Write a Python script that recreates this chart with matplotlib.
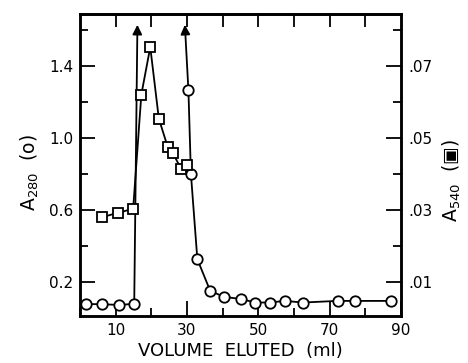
import numpy as np
import matplotlib
matplotlib.use('Agg')
import matplotlib.pyplot as plt
from matplotlib.ticker import MultipleLocator, FuncFormatter

# A280 (circles), split around the off-scale peaks
circ_pre_x = [1.8, 6.3, 10.8, 15.2]
circ_pre_y = [0.077, 0.075, 0.072, 0.077]
circ_post_x = [30.4, 31.1, 32.9, 36.5, 40.3, 45.2, 49.2, 53.2, 57.4, 62.5, 72.2, 77.2, 87.2]
circ_post_y = [1.265, 0.80, 0.326, 0.150, 0.117, 0.104, 0.085, 0.085, 0.094, 0.085, 0.094, 0.094, 0.094]
# off-scale peak arrows (x, tip height in A280 units)
arrow_x = [16.1, 29.4]
arrow_top = [1.63, 1.63]

# A540 (squares)
sq_x = [6.25, 10.6, 14.9, 17.2, 19.7, 22.1, 24.6, 26.1, 28.3, 29.9]
sq_y = [0.0280, 0.0292, 0.0303, 0.0621, 0.0753, 0.0554, 0.0475, 0.0457, 0.0415, 0.0424]

W, H = 468, 363
fig = plt.figure(figsize=(W / 100, H / 100), dpi=100)
ax = fig.add_axes([80 / W, 47 / H, 321 / W, 302 / H])
ax2 = ax.twinx()

lw = 1.3
ax.plot(circ_pre_x, circ_pre_y, '-', color='k', lw=lw, marker='o', ms=7.5,
        mfc='white', mec='k', mew=1.3, zorder=4)
ax.plot(circ_post_x, circ_post_y, '-', color='k', lw=lw, marker='o', ms=7.5,
        mfc='white', mec='k', mew=1.3, zorder=4)
# arrows for off-scale values
ax.annotate('', xy=(arrow_x[0], arrow_top[0]), xytext=(circ_pre_x[-1], circ_pre_y[-1]),
            arrowprops=dict(arrowstyle='-|>', color='k', lw=lw, mutation_scale=14,
                            shrinkA=0, shrinkB=0), zorder=3)
ax.annotate('', xy=(arrow_x[1], arrow_top[1]), xytext=(circ_post_x[0], circ_post_y[0]),
            arrowprops=dict(arrowstyle='-|>', color='k', lw=lw, mutation_scale=14,
                            shrinkA=0, shrinkB=0), zorder=3)

ax2.plot(sq_x, sq_y, '-', color='k', lw=lw, marker='s', ms=6.5,
         mfc='white', mec='k', mew=1.3, zorder=4)

ax.set_xlim(0, 90)
ax.set_ylim(0.01, 1.69)
ax2.set_ylim(0.0005, 0.0845)

ax.set_xticks([10, 30, 50, 70, 90])
ax.xaxis.set_minor_locator(MultipleLocator(10))
ax.set_yticks([0.2, 0.6, 1.0, 1.4])
ax.yaxis.set_minor_locator(MultipleLocator(0.2))
ax.set_yticklabels(['0.2', '0.6', '1.0', '1.4'])
ax2.set_yticks([0.01, 0.03, 0.05, 0.07])
ax2.yaxis.set_minor_locator(MultipleLocator(0.01))
ax2.yaxis.set_major_formatter(FuncFormatter(lambda v, p: ('%.2f' % v).lstrip('0')))

for a in (ax, ax2):
    a.tick_params(which='both', direction='in', width=1.3, labelsize=11, pad=5)
    a.tick_params(which='major', length=11)
    a.tick_params(which='minor', length=6)
ax.tick_params(axis='y', which='both', right=False)

top = ax.secondary_xaxis('top')
top.set_xticks([10, 20, 30, 40, 50, 60, 70, 80])
top.tick_params(direction='in', length=9, width=1.3, labeltop=False)

for a in (ax, ax2, top):
    for s in a.spines.values():
        s.set_linewidth(1.8)

ax.set_xlabel('VOLUME  ELUTED  (ml)', fontsize=13, labelpad=3)
ax.set_ylabel('A$_{280}$  (o)', fontsize=13.5)
ax.yaxis.set_label_coords(-0.12, 0.475)
ax2.set_ylabel('A$_{540}$  (\u25a3)', fontsize=13.5, rotation=90)
ax2.yaxis.set_label_coords(1.125, 0.45)

fig.savefig('out.png', dpi=100)
